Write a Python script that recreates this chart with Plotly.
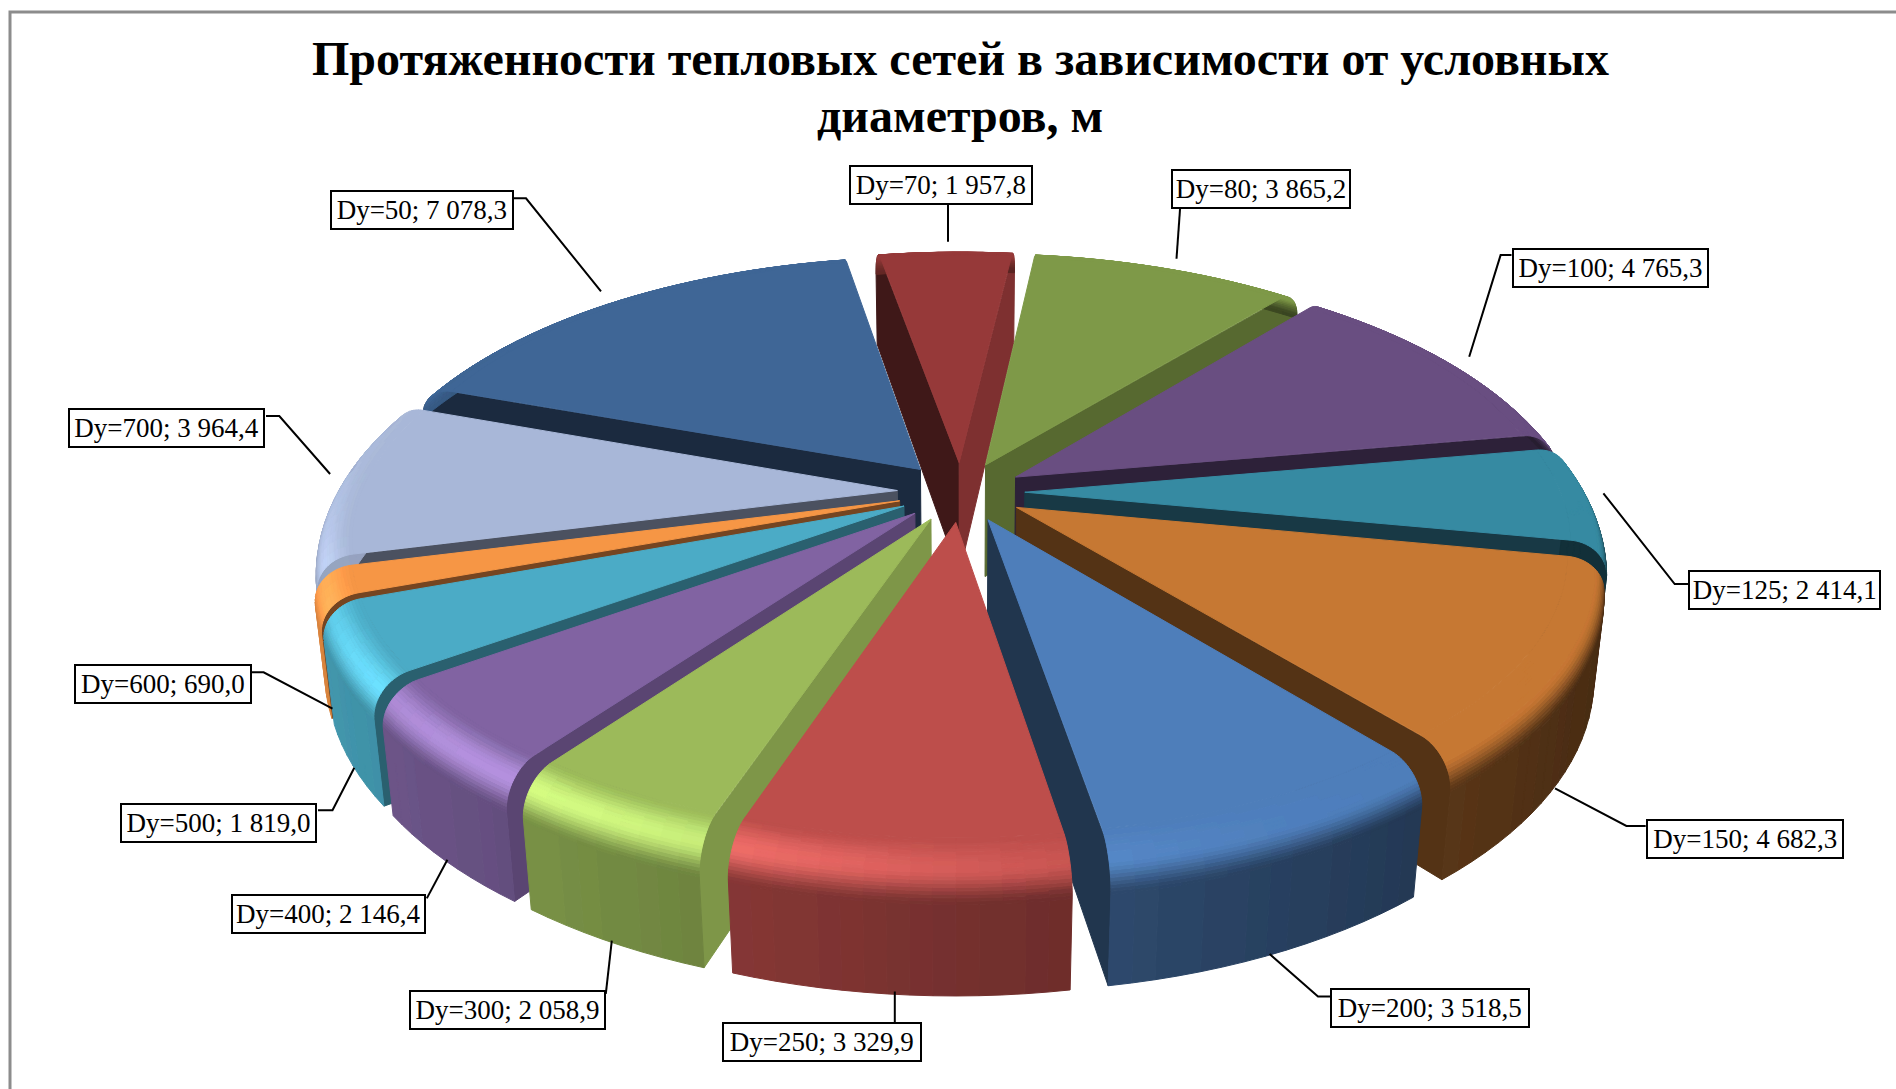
import math
import plotly.graph_objects as go

# ---- data
diameters = ["Dy=50","Dy=70","Dy=80","Dy=100","Dy=125","Dy=150","Dy=200","Dy=250","Dy=300","Dy=400","Dy=500","Dy=600","Dy=700"]
lengths = [7078.3,1957.8,3865.2,4765.3,2414.1,4682.3,3518.5,3329.9,2058.9,2146.4,1819.0,690.0,3964.4]
value_labels = ["7 078,3","1 957,8","3 865,2","4 765,3","2 414,1","4 682,3","3 518,5","3 329,9","2 058,9","2 146,4","1 819,0","690,0","3 964,4"]
colors = ["#3F6797","#963A38","#7F9A48","#684F82","#368AA1","#C67733","#4E7EBB","#BD4E4B","#9BBB59","#8064A2","#4BACC6","#F79646","#A9B8D8"]
title_lines = ["Протяженности тепловых сетей в зависимости от условных", "диаметров, м"]

# ---- label layout (pixel positions on the page)
S = 1896/1568
label_centers = [(349,174),(778,153),(1043,156),(1332,222),(1476,488),(1443,694),(1183,834),(680,862),(420,835),(272,756),(181,681),(135,566),(138,354)]
label_widths = [152,152,149,163,160,164,165,165,163,161,163,147,163]
leaders = [
 [(425,164),(435,164),(497,241)],
 [(784,168),(784,200)],
 [(976,171),(973,214)],
 [(1250,211),(1241,211),(1215,295)],
 [(1396,483),(1385,483),(1326,408)],
 [(1361,683),(1345,683),(1286,652)],
 [(1100,824),(1090,824),(1050,789)],
 [(740,848),(740,820)],
 [(501,822),(506,778)],
 [(353,743),(370,711)],
 [(263,670),(275,670),(293,635)],
 [(208,556),(218,556),(275,586)],
 [(220,344),(231,344),(273,392)],
]

# ---- pie geometry
START = 289.7          # degrees, clockwise from the back
EXPLODE = 0.10
RADIUS = 0.90
HEIGHT = 0.205
BEVEL = 0.06
ALPHA = math.radians(28.0)
SA, CA = math.sin(ALPHA), math.cos(ALPHA)
DIST = 4.45
FOCAL = 638*DIST
CX, CY = 961.0, 492.0
BANDS = 20
STEP = 2.0

def proj(x, y, z):
    yc = y*SA + z*CA
    zc = DIST + y*CA - z*SA
    return CX + FOCAL*x/zc, CY - FOCAL*yc/zc

def hex_rgb(h):
    return [int(h[i:i+2],16) for i in (1,3,5)]

def shade(rgb, f, add=0.0):
    return "rgb(%d,%d,%d)" % tuple(
        min(255, max(0, 3*round((c*f + 255*add)/3))) for c in rgb)

def smooth(u):
    u = max(0.0, min(1.0, u))
    return u*u*(3-2*u)

def rim_color(rgb, t, dx, dy):
    wall = 0.62 - 0.27*dx
    h = max(0.0, dx*(-0.64) + dy*(-0.77))**4
    if t < 0.5:
        u = smooth(t/0.5)
        return shade(rgb, 1 + 0.24*h*u, 0.08*h*u)
    u = smooth((t-0.5)/0.5)
    return shade(rgb, (1 + 0.24*h)*(1-u) + wall*u, 0.08*h*(1-u))

fig = go.Figure()

def flush(groups):
    for col, polys in groups.items():
        xs, ys = [], []
        for p in polys:
            xs += [q[0] for q in p] + [p[0][0], None]
            ys += [q[1] for q in p] + [p[0][1], None]
        fig.add_trace(go.Scatter(x=xs, y=ys, mode="lines", fill="toself", fillcolor=col,
                                 line=dict(color=col, width=1), hoverinfo="skip", showlegend=False))

total = sum(lengths)
spans = []
a = START
for v in lengths:
    w = v/total*360
    spans.append((a, a+w))
    a += w

def depth(i):
    m = math.radians(sum(spans[i])/2)
    return -math.cos(m)

order = sorted(range(len(lengths)), key=depth)

for i in order:
    rgb = hex_rgb(colors[i])
    a0, a1 = spans[i]
    mid = math.radians((a0+a1)/2)
    ox, oy = EXPLODE*math.sin(mid), EXPLODE*math.cos(mid)
    def pt(theta_deg, r, z):
        th = math.radians(theta_deg)
        return proj(ox + r*math.sin(th), oy + r*math.cos(th), z)
    n = max(2, int(math.ceil((a1-a0)/STEP)))
    angs = [a0 + (a1-a0)*k/n for k in range(n+1)]

    # radial side faces
    groups = {}
    prof = [(RADIUS-BEVEL+BEVEL*math.sin(j/BANDS*math.pi/2), -BEVEL*(1-math.cos(j/BANDS*math.pi/2))) for j in range(BANDS+1)]
    for ang, sign in ((a0,-1),(a1,1)):
        th = math.radians(ang)
        nx = sign*math.cos(th)
        poly = [proj(ox, oy, 0)] + [pt(ang, r, z) for r, z in prof] + [pt(ang, RADIUS, -HEIGHT), proj(ox, oy, -HEIGHT)]
        face = shade(rgb, 0.42 + 0.43*max(0.0, nx)**2)
        # keep only the faces turned to the viewer
        ny = -sign*math.sin(th)
        eye = (0.0, -CA*DIST, SA*DIST)
        if nx*(eye[0]-(ox+0.5*math.sin(th))) + ny*(eye[1]-(oy+0.5*math.cos(th))) > 0:
            groups.setdefault(face, []).append(poly)
    flush(groups)

    # outer wall
    groups = {}
    for k in range(n):
        b0, b1 = angs[k], angs[k+1]
        m = math.radians((b0+b1)/2)
        dx, dy = math.sin(m), math.cos(m)
        quad = [pt(b0, RADIUS, -BEVEL), pt(b1, RADIUS, -BEVEL), pt(b1, RADIUS, -HEIGHT), pt(b0, RADIUS, -HEIGHT)]
        if dy < 0.25:
            groups.setdefault(shade(rgb, 0.62-0.27*dx), []).append(quad)
    flush(groups)

    # rounded rim, from the wall up to the flat top
    groups = {}
    for j in range(BANDS-1, -1, -1):
        r0, z0 = prof[j]; r1, z1 = prof[j+1]
        t = (j+0.5)/BANDS
        for k in range(n):
            b0, b1 = angs[k], angs[k+1]
            m = math.radians((b0+b1)/2)
            quad = [pt(b0, r0, z0), pt(b1, r0, z0), pt(b1, r1, z1), pt(b0, r1, z1)]
            groups.setdefault(rim_color(rgb, t, math.sin(m), math.cos(m)), []).append(quad)
    flush(groups)

    # flat top
    top = [proj(ox, oy, 0)] + [pt(b, RADIUS-BEVEL, 0) for b in angs]
    flush({shade(rgb, 1.0): [top]})

# ---- layout furniture
shapes = [dict(type="path", path="M 1896 12 L 10 12 L 10 1089", line=dict(color="#8C8C8C", width=3))]
for pts in leaders:
    d = "M " + " L ".join("%.1f %.1f" % (p[0]*S, p[1]*S) for p in pts)
    shapes.append(dict(type="path", path=d, line=dict(color="black", width=2)))

annotations = []
for line, y in zip(title_lines, (58, 115)):
    annotations.append(dict(x=960, y=y, xref="x", yref="y", text="<b>%s</b>" % line, showarrow=False,
                            font=dict(family="Liberation Serif", size=48, color="black"), align="center"))
for name, val, c, w in zip(diameters, value_labels, label_centers, label_widths):
    annotations.append(dict(x=c[0]*S, y=c[1]*S, xref="x", yref="y", text="%s; %s" % (name, val), showarrow=False,
                            font=dict(family="Liberation Serif", size=27, color="black"),
                            width=w*S-8, height=32, align="center",
                            bgcolor="white", bordercolor="black", borderwidth=2, borderpad=2))

fig.update_layout(width=1896, height=1089, margin=dict(l=0, r=0, t=0, b=0),
                  paper_bgcolor="white", plot_bgcolor="white", showlegend=False,
                  xaxis=dict(range=[0,1896], visible=False, fixedrange=True),
                  yaxis=dict(range=[1089,0], visible=False, fixedrange=True),
                  shapes=shapes, annotations=annotations)
fig.write_html("out.html", config=dict(displayModeBar=False),
               post_script="document.body.style.margin='0';document.body.style.overflow='hidden';")
